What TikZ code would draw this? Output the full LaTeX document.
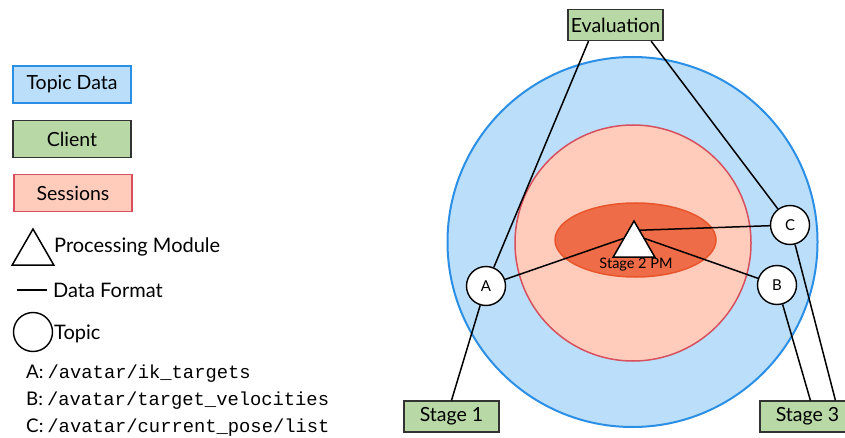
\documentclass[tikz,border=0pt]{standalone}
\usepackage{fontspec}
\setmainfont{Lato}
\setmonofont{Liberation Mono}
\usetikzlibrary{shapes.geometric,calc}

\definecolor{topicfill}{HTML}{BBDEFA}
\definecolor{topicline}{HTML}{2B8FE6}
\definecolor{clientfill}{HTML}{B8D8A6}
\definecolor{clientline}{HTML}{333333}
\definecolor{sessfill}{HTML}{FFCCBC}
\definecolor{sessline}{HTML}{D6505E}
\definecolor{pmfill}{HTML}{EE6C47}
\definecolor{pmline}{HTML}{E8552C}

\tikzset{
  legendbox/.style={draw, line width=1.5pt, minimum width=118pt, minimum height=37pt, inner sep=0pt, font=\fontsize{19.5}{22}\selectfont},
  clientbox/.style={draw=clientline, fill=clientfill, line width=1.3pt, minimum width=95pt, minimum height=31pt, inner sep=0pt, font=\fontsize{19.5}{22}\selectfont},
  topicnode/.style={circle, draw=black, fill=white, line width=1.4pt, minimum size=39pt, inner sep=0pt, font=\fontsize{15}{17}\selectfont},
  pmtri/.style={regular polygon, regular polygon sides=3, draw=black, fill=white, line width=1.5pt, minimum size=48pt, inner sep=0pt},
  link/.style={draw=black, line width=1.5pt},
  legendtext/.style={anchor=west, inner sep=0pt, font=\fontsize{20}{23}\selectfont},
  pathtext/.style={anchor=west, inner sep=0pt, font=\fontsize{18.8}{21}\selectfont},
}

\begin{document}
\begin{tikzpicture}[x=1pt,y=-1pt]
\useasboundingbox (0,0) rectangle (845,438);
\clip (0,0) rectangle (845,438);

% ---- legend ----
\node[legendbox, draw=topicline, fill=topicfill] (lgtopic) at (72,84.5) {Topic Data};
\node[legendbox, draw=clientline, fill=clientfill] (lgclient) at (72,139) {Client};
\node[legendbox, draw=sessline, fill=sessfill] (lgsess) at (73,193) {Sessions};

\node[pmtri] (lgpm) at (33,253) {};
\node[legendtext] (lgpmtext) at (54,247) {Processing Module};

\coordinate (lgl1) at (17,290);
\coordinate (lgl2) at (47,290);
\draw[link] (lgl1) -- (lgl2);
\node[legendtext] (lgdftext) at (53,290) {Data Format};

\node[circle, draw=black, line width=1.4pt, minimum size=39pt, inner sep=0pt] (lgtopiccirc) at (33,332) {};
\node[legendtext] (lgtopictext) at (54,334) {Topic};

\node[pathtext] (pa) at (26,374) {A:\hspace{4pt}\texttt{/avatar/ik\_targets}};
\node[pathtext] (pb) at (26,401) {B:\hspace{4pt}\texttt{/avatar/target\_velocities}};
\node[pathtext] (pc) at (26,428) {C:\hspace{4pt}\texttt{/avatar/current\_pose/list}};

% ---- nested regions ----
\node[circle, draw=topicline, fill=topicfill, line width=2pt, minimum size=370pt, inner sep=0pt] (topicdata) at (632.5,242) {};
\node[circle, draw=sessline, fill=sessfill, line width=1.5pt, minimum size=236pt, inner sep=0pt] (session) at (633,243) {};
\node[ellipse, draw=pmline, fill=pmfill, line width=1.5pt, minimum width=161pt, minimum height=74pt, inner sep=0pt] (stagearea) at (635.5,240) {};

% ---- processing module ----
\node[pmtri] (pm) at (634,245) {};
\node[inner sep=0pt, font=\fontsize{14.5}{16}\selectfont] (pmlabel) at (636,265) {Stage 2 PM};

% ---- topics ----
\node[topicnode] (A) at (486,286) {A};
\node[topicnode] (B) at (777,285) {B};
\node[topicnode] (C) at (790,225) {C};

% ---- clients ----
\node[clientbox] (eval) at (615.5,25) {Evaluation};
\node[clientbox] (s1) at (451.5,416.5) {Stage 1};
\node[clientbox] (s3) at (807.5,416.5) {Stage 3};

% ---- data formats ----
\draw[link] (A) -- (pm.side 1);
\draw[link] (B) -- (pm.side 3);
\draw[link] (C) -- ($(pm.corner 1)!0.28!(pm.corner 3)$);

\draw[link] ($(eval.south west)!0.22!(eval.south east)$) -- (A);
\draw[link] ($(eval.south west)!0.87!(eval.south east)$) -- (C);
\draw[link] (A) -- (s1.north);
\draw[link] (B) -- ($(s3.north west)!0.53!(s3.north east)$);
\draw[link] (C) -- ($(s3.north west)!0.79!(s3.north east)$);
\end{tikzpicture}
\end{document}
